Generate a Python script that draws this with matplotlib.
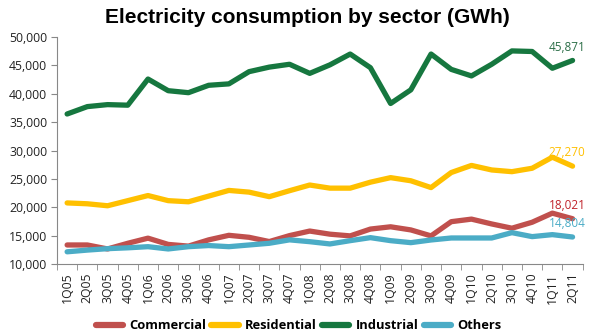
import matplotlib
matplotlib.use("Agg")
import matplotlib.pyplot as plt

quarters = ["1Q05", "2Q05", "3Q05", "4Q05", "1Q06", "2Q06", "3Q06", "4Q06",
            "1Q07", "2Q07", "3Q07", "4Q07", "1Q08", "2Q08", "3Q08", "4Q08",
            "1Q09", "2Q09", "3Q09", "4Q09", "1Q10", "2Q10", "3Q10", "4Q10",
            "1Q11", "2Q11"]

commercial = [13400, 13400, 12700, 13700, 14600, 13500, 13200, 14300,
              15100, 14750, 14000, 15050, 15850, 15300, 15000, 16200,
              16600, 16050, 15000, 17500, 17950, 17100, 16350, 17400,
              19000, 18021]
residential = [20800, 20650, 20300, 21200, 22100, 21200, 21000, 22000,
               23000, 22700, 21900, 22950, 23950, 23400, 23400, 24450,
               25250, 24700, 23500, 26150, 27400, 26600, 26300, 26900,
               28850, 27270]
industrial = [36450, 37750, 38100, 38000, 42600, 40550, 40200, 41500,
              41750, 43900, 44700, 45200, 43600, 45100, 47000, 44600,
              38300, 40700, 47000, 44300, 43150, 45200, 47550, 47450,
              44500, 45871]
others = [12200, 12500, 12750, 12900, 13100, 12700, 13100, 13300,
          13100, 13400, 13700, 14300, 13980, 13580, 14160, 14690,
          14160, 13810, 14280, 14630, 14630, 14630, 15570, 14870,
          15220, 14804]

series = [
    ("Commercial", commercial, "#c0504d", "#c0232b"),
    ("Residential", residential, "#ffc000", "#ffc000"),
    ("Industrial", industrial, "#16773f", "#2b6e47"),
    ("Others", others, "#4bacc6", "#4bacc6"),
]

fig = plt.figure(figsize=(5.97, 3.36), dpi=100)
ax = fig.add_axes([0.0955, 0.2134, 0.8805, 0.6765])

x = list(range(len(quarters)))
for name, vals, col, lab_col in series:
    ax.plot(x, vals, color=col, lw=3.8, label=name,
            solid_capstyle="round", solid_joinstyle="round")
    ax.annotate(f"{vals[-1]:,}", (x[-1], vals[-1]), xytext=(-4, 5),
                textcoords="offset points", ha="center", va="bottom",
                color=lab_col, fontsize=8.5, family="Open Sans")

ax.set_xlim(-0.5, len(quarters) - 0.5)
ax.set_ylim(10000, 50000)
ax.set_yticks(range(10000, 50001, 5000))
ax.set_yticklabels([f"{v:,}" for v in range(10000, 50001, 5000)],
                   family="Open Sans", fontsize=8.8, color="#222222")
ax.set_xticks(x)
ax.set_xticklabels(quarters, rotation=90, family="Open Sans",
                   fontsize=8.8, color="#222222")
ax.tick_params(axis="x", length=0, pad=6)
# tick marks sit between the quarters
ax.set_xticks([i - 0.5 for i in range(len(quarters) + 1)], minor=True)
ax.tick_params(axis="x", which="minor", length=4, color="#888888")
ax.tick_params(axis="y", length=4, color="#888888", pad=3)

for s in ["top", "right"]:
    ax.spines[s].set_visible(False)
for s in ["left", "bottom"]:
    ax.spines[s].set_color("#888888")
    ax.spines[s].set_linewidth(0.8)

fig.text(0.515, 0.948, "Electricity consumption by sector (GWh)",
         ha="center", va="center", fontsize=15, fontweight="bold",
         family="Liberation Sans")

leg = fig.legend(loc="center", bbox_to_anchor=(0.5, 0.03), ncol=4,
                 frameon=False, handlelength=2.1, handletextpad=0.5,
                 columnspacing=0.4,
                 prop={"family": "Open Sans", "weight": "bold", "size": 9.3})
for h in leg.get_lines():
    h.set_linewidth(4.5)

fig.savefig("out.png", dpi=100)
